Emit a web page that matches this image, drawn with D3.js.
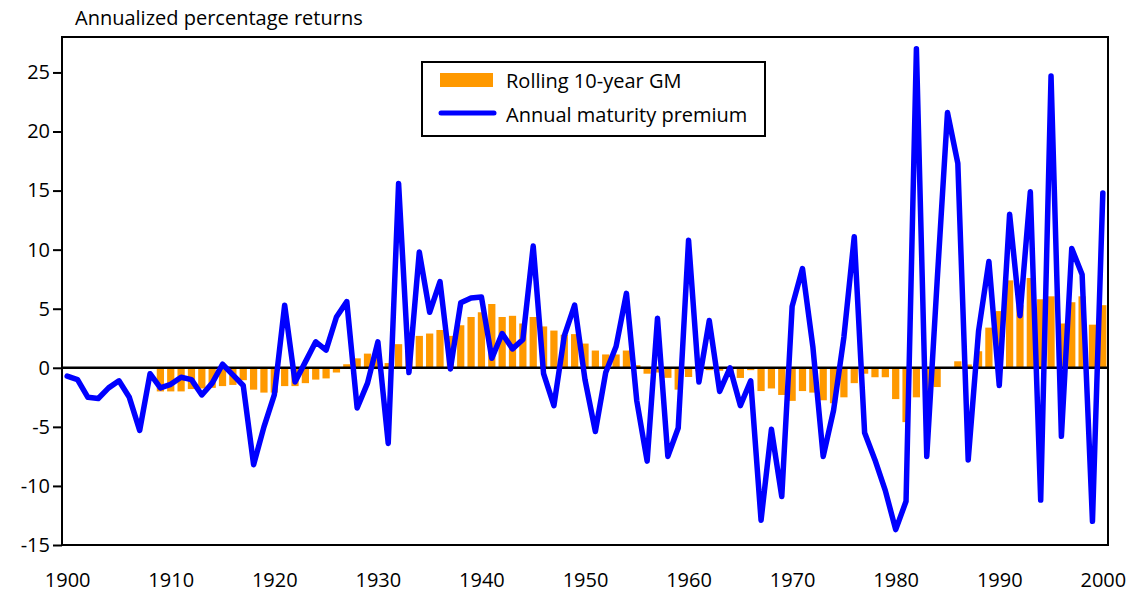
<!DOCTYPE html>
<html>
<head>
<meta charset="utf-8">
<script src="https://cdn.jsdelivr.net/npm/d3@7"></script>
<style>
  body { margin: 0; background: #fff; }
  text { font-family: "Open Sans", sans-serif; fill: #000; }
</style>
</head>
<body>
<script>
'use strict'

// years for the annual line
const years = d3.range(1900, 2001)

// annual maturity premium, 1900-2000
const premium = [
  -0.7, -1.0, -2.5, -2.6, -1.7, -1.1, -2.5, -5.3, -0.5, -1.7,
  -1.4, -0.8, -1.0, -2.3, -1.3, 0.3, -0.6, -1.5, -8.2, -5.0,
  -2.3, 5.3, -1.2, 0.5, 2.2, 1.5, 4.3, 5.6, -3.4, -1.3,
  2.2, -6.4, 15.6, -0.4, 9.8, 4.7, 7.3, -0.1, 5.5, 5.9,
  6.0, 0.8, 2.9, 1.6, 2.4, 10.3, -0.5, -3.2, 2.7, 5.3,
  -1.0, -5.4, -0.4, 1.8, 6.3, -2.8, -7.9, 4.2, -7.5, -5.1,
  10.8, -1.2, 4.0, -2.0, 0.0, -3.2, -1.1, -12.9, -5.2, -10.9,
  5.2, 8.4, 1.8, -7.5, -3.6, 2.6, 11.1, -5.5, -7.8, -10.4,
  -13.7, -11.3, 27.0, -7.5, 7.3, 21.6, 17.3, -7.8, 3.1, 9.0,
  -1.5, 13.0, 4.4, 14.9, -11.2, 24.7, -5.8, 10.1, 7.9, -13.0,
  14.8
]

// rolling 10-year geometric mean, 1909-2000
const gmYears = d3.range(1909, 2001)
const rollingGM = [
  -2.0,
  -2.0, -2.0, -1.8, -1.75, -1.7, -1.55, -1.45, -1.05, -1.85, -2.1,
  -2.1, -1.55, -1.55, -1.3, -1.0, -0.9, -0.4, 0.3, 0.8, 1.2,
  1.1, 0.4, 2.0, 2.3, 2.7, 2.9, 3.2, 2.7, 3.6, 4.3,
  4.7, 5.4, 4.3, 4.4, 3.75, 4.3, 3.5, 3.15, 2.8, 2.85,
  2.05, 1.46, 1.13, 1.13, 1.46, 0.22, -0.5, -0.4, -0.85, -1.85,
  -0.78, -0.3, -0.2, -0.25, -0.5, -0.86, -0.2, -1.97, -1.75, -2.3,
  -2.8, -1.97, -2.1, -2.75, -3.0, -2.5, -1.3, -0.5, -0.8, -0.8,
  -2.65, -4.6, -2.5, -2.0, -1.63, 0.0, 0.55, 0.28, 1.4, 3.4,
  4.8, 7.4, 5.3, 7.6, 5.8, 6.05, 3.75, 5.55, 6.05, 3.65,
  5.3
]

const xTicks = d3.range(1900, 2001, 10)
const yTicks = [-15, -10, -5, 0, 5, 10, 15, 20, 25]

const seriesNames = ['Rolling 10-year GM', 'Annual maturity premium']
const orange = '#ff9900',
      blue = '#0000ff'

const W = 1132, H = 592
const margin = {top: 37, right: 24, bottom: 47, left: 62},
      width = W - margin.left - margin.right,
      height = H - margin.top - margin.bottom

const x = d3.scaleLinear()
  .domain([1899.5, 2000.5])
  .range([0, width])

const y = d3.scaleLinear()
  .domain([-15, 28])
  .range([height, 0])

const svg = d3.select('body').append('svg')
  .attr('width', W)
  .attr('height', H)

svg.append('text')
  .attr('x', 75)
  .attr('y', 25)
  .style('font-size', '20px')
  .text('Annualized percentage returns')

const g = svg.append('g')
  .attr('transform', 'translate(' + [margin.left, margin.top] + ')')

// bars
const barW = (x(1) - x(0)) * 0.7
g.append('g')
  .selectAll('rect')
  .data(rollingGM)
  .enter()
  .append('rect')
  .attr('x', (d, i) => x(gmYears[i]) - barW / 2)
  .attr('y', d => y(Math.max(0, d)))
  .attr('width', barW)
  .attr('height', d => Math.abs(y(d) - y(0)))
  .attr('fill', orange)

// zero line
g.append('line')
  .attr('x1', 0)
  .attr('x2', width)
  .attr('y1', y(0))
  .attr('y2', y(0))
  .attr('stroke', '#000')
  .attr('stroke-width', 2.5)

// annual line
const line = d3.line()
  .x((d, i) => x(years[i]))
  .y(d => y(d))

g.append('path')
  .datum(premium)
  .attr('d', line)
  .attr('fill', 'none')
  .attr('stroke', blue)
  .attr('stroke-width', 5.5)
  .attr('stroke-linejoin', 'round')
  .attr('stroke-linecap', 'round')

// frame
g.append('rect')
  .attr('width', width)
  .attr('height', height)
  .attr('fill', 'none')
  .attr('stroke', '#000')
  .attr('stroke-width', 2)

// axes
const yAxis = g.append('g')
  .call(d3.axisLeft(y).tickValues(yTicks).tickSize(9).tickPadding(3)
    .tickFormat(d => String(d)))
yAxis.select('.domain').remove()
yAxis.selectAll('line').attr('stroke-width', 2)
yAxis.selectAll('text').style('font-size', '20px').attr('fill', '#000')

const xAxis = g.append('g')
  .attr('transform', 'translate(0,' + height + ')')
  .call(d3.axisBottom(x).tickValues(xTicks).tickSize(0).tickPadding(28)
    .tickFormat(d => String(d)))
xAxis.select('.domain').remove()
xAxis.selectAll('text').style('font-size', '20px').attr('fill', '#000')

// legend
const legend = svg.append('g')
legend.append('rect')
  .attr('x', 422)
  .attr('y', 62)
  .attr('width', 343)
  .attr('height', 74)
  .attr('fill', '#fff')
  .attr('stroke', '#000')
  .attr('stroke-width', 2)
legend.append('rect')
  .attr('x', 440)
  .attr('y', 73)
  .attr('width', 53)
  .attr('height', 14)
  .attr('fill', orange)
legend.append('line')
  .attr('x1', 441)
  .attr('x2', 494)
  .attr('y1', 113)
  .attr('y2', 113)
  .attr('stroke', blue)
  .attr('stroke-width', 5)
  .attr('stroke-linecap', 'round')
legend.selectAll('text.lab')
  .data(seriesNames)
  .enter()
  .append('text')
  .attr('class', 'lab')
  .attr('x', 506)
  .attr('y', (d, i) => 88 + i * 34)
  .style('font-size', '20px')
  .text(d => d)
</script>
</body>
</html>
